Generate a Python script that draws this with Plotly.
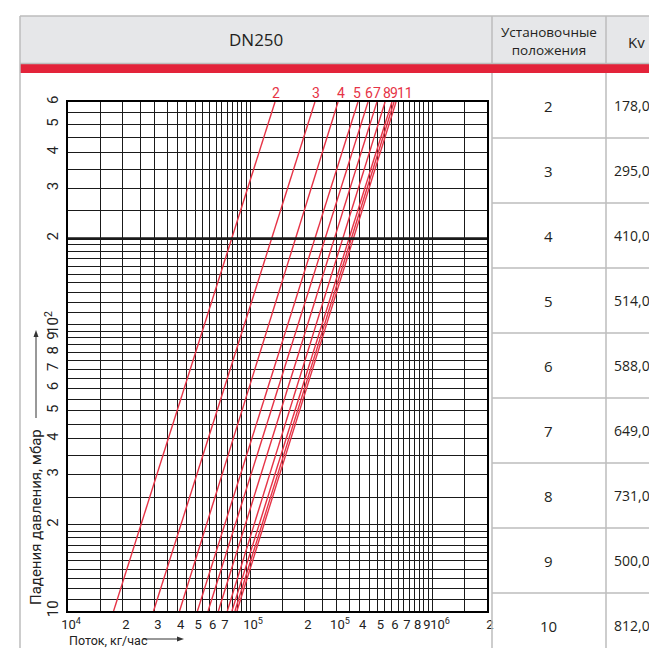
import math
import plotly.graph_objects as go

# ---------------- data ----------------
positions = ["2", "3", "4", "5", "6", "7", "8", "9", "10"]
kv_values = [178.0, 295.0, 410.0, 514.0, 588.0, 649.0, 731.0, 500.0, 812.0]

curve_names = ["2", "3", "4", "5", "6", "7", "8", "9", "10", "11"]
flow_at_10 = [17800, 29500, 41000, 51400, 58800, 67000, 75000, 79500, 82600, 84700]
flow_at_600 = [137000, 227000, 304000, 391000, 444000, 497000, 551000, 601000, 617000, 633000]
dp_ends = [10, 600]

curve_label_text = ["2", "3", "4", "5", "6", "7", "8", "9", "11"]
curve_label_flow = [138800, 230000, 315000, 386000, 450000, 498000, 565000, 615000, 705000]

x_grid = ([1e4 * (1 + 0.5 * i) for i in range(18)] +
          [1e5 * (1 + 0.5 * i) for i in range(18)] +
          [1e6, 1.5e6, 2e6])
x_tick_vals = [1e4, 2e4, 3e4, 4e4, 5e4, 6e4, 7e4, 1e5, 2e5, 3e5, 4e5, 5e5, 6e5, 7e5,
               8e5, 9e5, 1e6, 2e6]
x_tick_text = ["10<sup>4</sup>", "2", "3", "4", "5", "6", "7", "10<sup>5</sup>", "2",
               "10<sup>5</sup>", "4", "5", "6", "7", "8", "9",
               "\u00a0\u00a0\u00a010<sup>6</sup>", "2"]

y_grid = ([10 + i for i in range(10)] + [20 + 5 * i for i in range(16)] +
          [100 + 10 * i for i in range(10)] + [200 + 50 * i for i in range(9)])
y_tick_vals = [10, 20, 30, 40, 50, 60, 70, 80, 90, 100, 200, 300, 400, 500, 600]
y_tick_text = ["10", "2", "3", "4", "5", "6", "7", "8", "9", "10<sup>2</sup>",
               "2", "3", "4", "5", "6"]

# ---------------- geometry helpers ----------------
W, H = 649, 648
L, R, T, B = 68, 487, 102, 611


def px(x):
    return (x - L) / (R - L)


def py(y):
    return (B - y) / (B - T)


COND = "Roboto, Liberation Sans Narrow, sans-serif"
HEAD = "Open Sans, Noto Sans, sans-serif"
RED = "#e63346"
GRID = "#1a1a1a"
BORDER = "#bdbdbd"
TXT = "#231f20"

fig = go.Figure()

for name, q0, q1 in zip(curve_names, flow_at_10, flow_at_600):
    fig.add_trace(go.Scatter(x=[q0, q1], y=dp_ends, mode="lines",
                             line=dict(color=RED, width=1.4), name=name,
                             showlegend=False, hoverinfo="skip"))

# thick line at 200 mbar
fig.add_trace(go.Scatter(x=[x_grid[0], x_grid[-1]], y=[200, 200], mode="lines",
                         line=dict(color=GRID, width=2.6), showlegend=False,
                         hoverinfo="skip"))

fig.update_xaxes(type="log", range=[4, math.log10(2e6)], tickvals=x_tick_vals,
                 ticktext=x_tick_text, showgrid=True, gridcolor=GRID, gridwidth=1.3,
                 ticks="", tickangle=0,
                 minor=dict(tickvals=x_grid, showgrid=True, gridcolor=GRID,
                            gridwidth=1.3, ticks=""),
                 showline=True, linecolor="#000", linewidth=1.5, mirror=True,
                 tickfont=dict(family=COND, size=13, color="#222"),
                 ticklabelshift=3, ticklabelstandoff=1, zeroline=False, automargin=False)
fig.update_yaxes(type="log", range=[1, math.log10(600)], tickvals=y_tick_vals,
                 ticktext=y_tick_text, showgrid=True, gridcolor=GRID, gridwidth=1.3,
                 ticks="", minor=dict(tickvals=y_grid, showgrid=True, gridcolor=GRID,
                                      gridwidth=1.3, ticks=""),
                 showline=True, linecolor="#000", linewidth=1.5, mirror=True,
                 tickangle=-90,
                 tickfont=dict(family=COND, size=15, color="#222"),
                 ticklabelstandoff=2, zeroline=False, automargin=False)

shapes = []
# header background
shapes.append(dict(type="rect", xref="paper", yref="paper", x0=px(20), x1=px(W + 5),
                   y0=py(64), y1=py(16), fillcolor="#e6e7e9", line=dict(width=0),
                   layer="below"))
# red bar
shapes.append(dict(type="rect", xref="paper", yref="paper", x0=px(20), x1=px(W + 5),
                   y0=py(73), y1=py(64), fillcolor="#e3233a", line=dict(width=0)))
# frame lines
for (x0, y0, x1, y1) in [(20, 16, W + 5, 16), (20, 16, 20, H + 5), (20, 63.5, W + 5, 63.5),
                         (492, 16, 492, 64), (606, 16, 606, 64),
                         (492, 73, 492, H + 5), (606, 73, 606, H + 5)]:
    shapes.append(dict(type="line", xref="paper", yref="paper", x0=px(x0), x1=px(x1),
                       y0=py(y0), y1=py(y1), line=dict(color=BORDER, width=1.5)))
row_top = 73
row_h = 65
for i in range(1, len(positions)):
    yy = row_top + row_h * i
    shapes.append(dict(type="line", xref="paper", yref="paper", x0=px(492), x1=px(W + 5),
                       y0=py(yy), y1=py(yy), line=dict(color=BORDER, width=1.5)))

# axis-title arrows (line + head)
ARR = "#333333"
shapes.append(dict(type="line", xref="paper", yref="paper", x0=px(143), x1=px(180),
                   y0=py(639), y1=py(639), line=dict(color=ARR, width=1)))
shapes.append(dict(type="path", xref="paper", yref="paper",
                   path="M %f,%f L %f,%f L %f,%f Z" % (px(184), py(639), px(177), py(636.5),
                                                       px(177), py(641.5)),
                   fillcolor=ARR, line=dict(width=0)))
shapes.append(dict(type="line", xref="paper", yref="paper", x0=px(36), x1=px(36),
                   y0=py(418), y1=py(335), line=dict(color=ARR, width=1)))
shapes.append(dict(type="path", xref="paper", yref="paper",
                   path="M %f,%f L %f,%f L %f,%f Z" % (px(36), py(330), px(33.5), py(337),
                                                       px(38.5), py(337)),
                   fillcolor=ARR, line=dict(width=0)))

ann = []


def add_text(x, y, text, font, xanchor="center", yanchor="middle", **kw):
    ann.append(dict(xref="paper", yref="paper", x=px(x), y=py(y), text=text,
                    showarrow=False, xanchor=xanchor, yanchor=yanchor, font=font, **kw))


add_text(256, 40, "DN250", dict(family=HEAD, size=17, color=TXT))
add_text(549, 41, "Установочные<br>положения", dict(family=HEAD, size=13.5, color=TXT))
add_text(636, 42, "Kv", dict(family=HEAD, size=15, color=TXT))
for i, (p, k) in enumerate(zip(positions, kv_values)):
    yc = row_top + row_h * i + row_h / 2
    add_text(548, yc, p, dict(family=HEAD, size=15, color=TXT))
    add_text(612, yc, ("%.1f" % k).replace(".", ","), dict(family=HEAD, size=14, color=TXT),
             xanchor="left")

# curve labels above the plot
for t, q in zip(curve_label_text, curve_label_flow):
    ann.append(dict(xref="x", yref="paper", x=math.log10(q), y=1, xanchor="center",
                    yanchor="bottom", yshift=-1, text=t, showarrow=False,
                    font=dict(family=COND, size=14, color=RED)))

# axis titles
add_text(67, 640, "Поток, кг/час", dict(family=COND, size=12.5, color="#222"),
         xanchor="left")
add_text(36, 517, "Падения давления, мбар", dict(family=COND, size=15, color="#222"),
         textangle=-90)

fig.update_layout(width=W, height=H, margin=dict(l=L, r=W - R, t=T, b=H - B),
                  paper_bgcolor="white", plot_bgcolor="white", shapes=shapes,
                  annotations=ann, showlegend=False)

fig.write_html("out.html", config={"displayModeBar": False},
               post_script="document.body.style.margin='0';"
                           "document.body.style.overflow='hidden';")
